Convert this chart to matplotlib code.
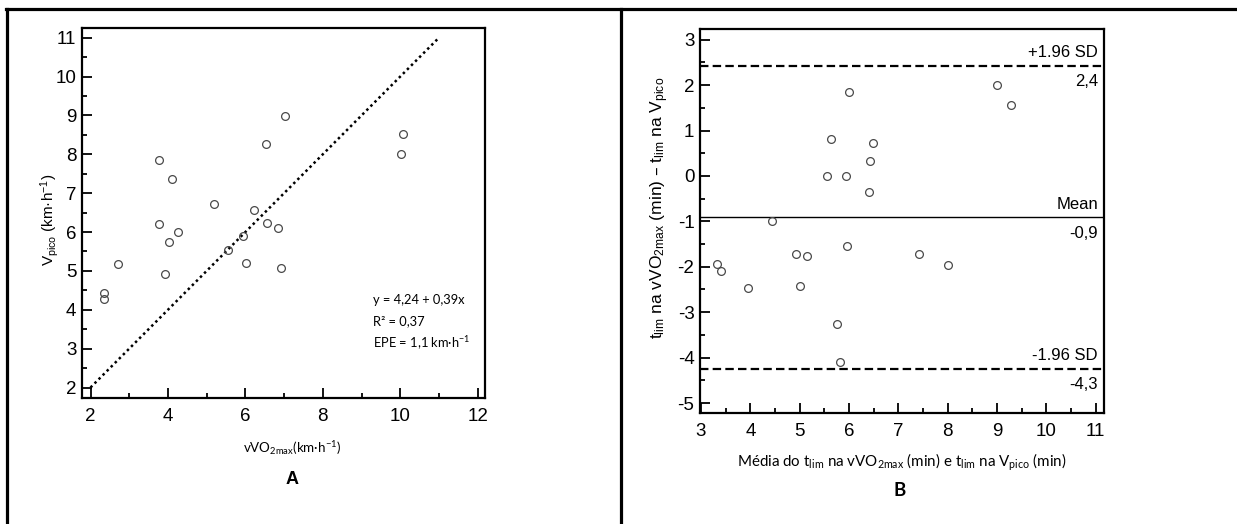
import numpy as np
import matplotlib
matplotlib.use("Agg")
import matplotlib.pyplot as plt
from matplotlib.lines import Line2D
from matplotlib.ticker import MultipleLocator

W, H = 1237, 524

# panel A: vVO2max vs Vpico
a_x = [2.35, 2.34, 2.72, 3.78, 4.11, 3.78, 4.25, 4.04, 3.92, 5.18, 5.55,
       5.94, 6.23, 6.02, 6.54, 6.57, 6.84, 7.03, 6.92, 10.01, 10.08]
a_y = [4.44, 4.27, 5.19, 7.85, 7.36, 6.21, 5.99, 5.75, 4.91, 6.71, 5.53,
       5.89, 6.57, 5.21, 8.26, 6.24, 6.10, 8.99, 5.07, 8.01, 8.51]
identity = [2, 11]
a_text = ["y = 4,24 + 0,39x", "R² = 0,37", r"EPE = 1,1 km·h$\mathregular{^{-1}}$"]

# panel B: Bland-Altman
b_mean = [3.32, 3.40, 3.96, 4.43, 4.92, 5.14, 5.01, 5.55, 5.63, 5.94, 6.01,
          6.49, 6.42, 6.41, 5.95, 5.75, 5.82, 7.41, 8.01, 9.01, 9.29]
b_diff = [-1.94, -2.09, -2.47, -1.00, -1.71, -1.76, -2.43, 0.00, 0.81, 0.00, 1.84,
          0.73, 0.32, -0.35, -1.54, -3.26, -4.10, -1.71, -1.97, 2.00, 1.57]
upper_sd, mean_diff, lower_sd = 2.43, -0.91, -4.25
b_lines = [("+1.96 SD", "2,4"), ("Mean", "-0,9"), ("-1.96 SD", "-4,3")]

ARIAL = "Liberation Sans"
CALI = "Lato"
plt.rcParams["font.family"] = [ARIAL, "DejaVu Sans"]
plt.rcParams["axes.unicode_minus"] = False


def px(x, y):
    return x / W, 1 - y / H


def style_axes(ax):
    for s in ax.spines.values():
        s.set_linewidth(1.6)
    ax.tick_params(which="both", direction="in", width=1.3,
                   top=False, right=False, labelsize=13.5, pad=4)
    ax.tick_params(axis="x", which="both", pad=7)
    ax.tick_params(which="major", length=7)
    ax.tick_params(which="minor", length=3.5)


fig = plt.figure(figsize=(W / 100, H / 100), dpi=100)

# table frame
for xs, ys in [((6, 1237), (9, 9)), ((7, 7), (9, 524)), ((621, 621), (9, 524))]:
    fig.add_artist(Line2D([x / W for x in xs], [1 - y / H for y in ys],
                          color="black", lw=2.3))

# ---- A ----
ax1 = fig.add_axes([82 / W, 1 - 398 / H, 403 / W, 370 / H])
ax1.plot(identity, identity, color="black", lw=1.8, linestyle=(0, (1, 1.3)))
ax1.plot(a_x, a_y, "o", mfc="none", mec="#4a4a4a", mew=0.9, ms=5.6)
ax1.set_xlim(1.78, 12.19)
ax1.set_ylim(1.73, 11.25)
ax1.xaxis.set_major_locator(MultipleLocator(2))
ax1.xaxis.set_minor_locator(MultipleLocator(1))
ax1.yaxis.set_major_locator(MultipleLocator(1))
ax1.yaxis.set_minor_locator(MultipleLocator(0.5))
style_axes(ax1)

for i, t in enumerate(a_text):
    fig.text(*px(373, 300 + i * 21.5), t, fontsize=9.3, family=CALI,
             ha="left", va="center")
fig.text(*px(292, 448), r"vVO$\mathregular{_{2max}}$(km·h$\mathregular{^{-1}}$)",
         fontsize=9.6, family=CALI, ha="center", va="center")
fig.text(*px(50, 220), r"V$\mathregular{_{pico}}$ (km·h$\mathregular{^{-1}}$)",
         fontsize=11, family=ARIAL, rotation=90, ha="center", va="center")
fig.text(*px(292, 479), "A", fontsize=13, family=ARIAL, weight="bold",
         ha="center", va="center")

# ---- B ----
ax2 = fig.add_axes([700 / W, 1 - 413 / H, 404 / W, 384 / H])
ax2.axhline(upper_sd, color="black", lw=1.6, linestyle=(0, (3.8, 1.9)))
ax2.axhline(mean_diff, color="black", lw=1.0)
ax2.axhline(lower_sd, color="black", lw=1.6, linestyle=(0, (3.8, 1.9)))
ax2.plot(b_mean, b_diff, "o", mfc="none", mec="#4a4a4a", mew=0.9, ms=5.6)
ax2.set_xlim(2.98, 11.17)
ax2.set_ylim(-5.22, 3.235)
ax2.xaxis.set_major_locator(MultipleLocator(1))
ax2.xaxis.set_minor_locator(MultipleLocator(0.5))
ax2.yaxis.set_major_locator(MultipleLocator(1))
ax2.yaxis.set_minor_locator(MultipleLocator(0.5))
style_axes(ax2)

for (top, bot), yv in zip(b_lines, [upper_sd, mean_diff, lower_sd]):
    ax2.annotate(top, (0.985, yv), xycoords=("axes fraction", "data"),
                 xytext=(0, 4), textcoords="offset points", ha="right", va="bottom",
                 fontsize=12, family=ARIAL)
    ax2.annotate(bot, (0.985, yv), xycoords=("axes fraction", "data"),
                 xytext=(0, -6), textcoords="offset points", ha="right", va="top",
                 fontsize=12, family=ARIAL)

fig.text(*px(902, 462),
         r"Média do t$\mathregular{_{lim}}$ na vVO$\mathregular{_{2max}}$ (min) e "
         r"t$\mathregular{_{lim}}$ na V$\mathregular{_{pico}}$ (min)",
         fontsize=10.9, family=CALI, ha="center", va="center")
fig.text(*px(660, 208),
         r"t$\mathregular{_{lim}}$ na vVO$\mathregular{_{2max}}$ (min) – "
         r"t$\mathregular{_{lim}}$ na V$\mathregular{_{pico}}$",
         fontsize=12.5, family=ARIAL, rotation=90, ha="center", va="center")
fig.text(*px(900, 490), "B", fontsize=13.5, family=CALI, weight="bold",
         ha="center", va="center")

fig.savefig("out.png", dpi=100)
